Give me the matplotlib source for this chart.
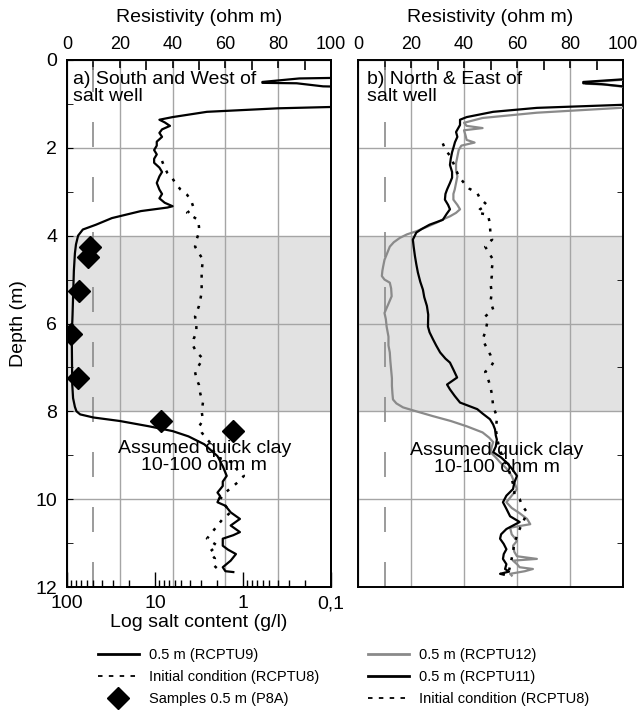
import matplotlib
matplotlib.use('Agg')
import matplotlib.pyplot as plt
from matplotlib.lines import Line2D
from matplotlib.ticker import NullFormatter, LogLocator

plt.rcParams['font.family'] = ['Liberation Sans', 'DejaVu Sans']

# --- a) South and West: RCPTU9 after 0.5 m (resistivity, ohm m)
depth_rcptu9 = [0.00, 0.38, 0.42, 0.50, 0.52, 0.53, 0.60, 0.64, 1.05, 1.07,
                1.10, 1.18, 1.30, 1.36, 1.42, 1.50, 1.58, 1.66, 1.75, 1.86,
                1.95, 2.05, 2.15, 2.25, 2.34, 2.45, 2.55, 2.65, 2.80, 2.95,
                3.05, 3.15, 3.25, 3.33, 3.36, 3.44, 3.60, 3.75, 3.86, 4.00,
                4.20, 4.40, 4.80, 5.20, 5.80, 6.30, 6.90, 7.40, 7.70, 7.90,
                8.00, 8.07, 8.14, 8.22, 8.34, 8.45, 8.57, 8.75, 9.02, 9.25,
                9.47, 9.60, 9.70, 9.85, 9.93, 10.07, 10.15, 10.30, 10.45, 10.60,
                10.75, 10.82, 10.90, 11.06, 11.15, 11.25, 11.40, 11.55, 11.64, 11.66]
res_rcptu9 = [130, 130, 88, 74, 74, 87, 97, 130, 130, 100,
              80, 53, 40, 35, 37, 39, 36, 35, 36, 34,
              34, 33, 34, 33, 33, 35, 36, 35, 34, 35,
              36, 35, 37, 40, 38, 28, 17, 11, 6, 4.2,
              3.4, 3.0, 2.6, 2.4, 2.1, 1.8, 1.9, 2.0, 2.3, 3.0,
              3.6, 5, 10, 20, 31, 40, 46, 52, 57, 59,
              60.5, 59, 59, 57, 58, 57, 60, 62, 65.5, 62,
              65.5, 63, 59, 59, 61, 64, 62, 59, 60, 63]

# initial condition RCPTU8 (left panel)
depth_init_a = [2.30, 2.45, 2.57, 2.70, 2.80, 2.95, 3.07, 3.20, 3.37, 3.48,
                3.64, 3.80, 3.93, 4.10, 4.25, 4.40, 4.55, 4.80, 5.00, 5.30,
                5.60, 5.84, 6.00, 6.20, 6.35, 6.50, 6.65, 6.80, 6.95, 7.10,
                7.25, 7.40, 7.60, 7.80, 8.00, 8.20, 8.35, 8.48, 8.60, 8.70,
                8.85, 9.05, 9.17, 9.30, 9.47, 9.60, 9.70, 9.85, 10.00, 10.15,
                10.30, 10.45, 10.60, 10.75, 10.90, 11.06, 11.20, 11.35, 11.50, 11.64]
res_init_a = [36, 37, 38, 40, 41, 43, 45.5, 47, 48, 45.5,
              49.6, 50, 50, 49, 48.5, 50, 51.5, 51, 51, 51,
              50, 48.5, 49, 49, 48, 47.7, 49, 51.5, 50, 48.5,
              49, 50, 50.5, 51.5, 51, 51.5, 50, 51, 52.5, 54,
              55, 57, 63, 64, 67, 65, 63, 60, 58, 60,
              62, 59, 57, 55, 53, 57, 54, 56, 55.5, 58]

# samples P8A (salt content, g/l)
depth_samples = [4.25, 4.48, 5.27, 6.23, 7.23, 8.23, 8.45]
salt_samples = [55, 58, 73, 90, 75, 8.5, 1.3]

# --- b) North & East: RCPTU11 and RCPTU12 after 0.5 m
depth_rcptu11 = [0.00, 0.40, 0.44, 0.50, 0.53, 0.55, 0.60, 0.63, 1.00, 1.02,
                 1.09, 1.18, 1.30, 1.36, 1.48, 1.64, 1.75, 1.87, 2.00, 2.10,
                 2.25, 2.39, 2.55, 2.68, 2.80, 2.95, 3.05, 3.18, 3.30, 3.40,
                 3.50, 3.64, 3.75, 3.85, 3.93, 4.09, 4.25, 4.47, 4.65, 4.84,
                 5.05, 5.23, 5.40, 5.60, 5.80, 6.07, 6.20, 6.36, 6.50, 6.66,
                 6.80, 6.89, 7.05, 7.23, 7.39, 7.50, 7.65, 7.80, 7.95, 8.05,
                 8.18, 8.30, 8.41, 8.55, 8.64, 8.80, 8.93, 9.05, 9.16, 9.30,
                 9.47, 9.62, 9.77, 9.92, 10.07, 10.22, 10.39, 10.52, 10.68, 10.80,
                 10.90, 11.02, 11.14, 11.25, 11.36, 11.48, 11.59, 11.65, 11.70, 11.72]
res_rcptu11 = [130, 130, 100, 85, 85, 92, 100, 130, 130, 100,
               67.5, 51, 41, 38.5, 38.5, 37, 37.5, 36.6, 36, 35.5,
               35, 34.7, 35.5, 35.5, 34.7, 33.6, 33, 32.8, 34, 34.7,
               33.5, 32, 27, 24, 22, 20.7, 21, 21.5, 22, 22.6,
               23.5, 24.5, 25, 26, 26.5, 26.4, 27, 28.3, 29.5, 31,
               33, 34.7, 36, 37.4, 33.6, 34.7, 36.5, 38.5, 45, 47,
               49.8, 51, 51.7, 52, 52.4, 52, 51, 54, 56, 58,
               60, 59, 58.5, 56, 54.7, 56, 57.4, 61, 56, 54,
               53.6, 55, 56, 55, 54.7, 56, 55.5, 57, 53.6, 55]

depth_rcptu12 = [0.00, 0.41, 0.45, 0.51, 0.54, 0.56, 0.61, 0.64, 1.06, 1.09,
                 1.20, 1.32, 1.43, 1.50, 1.55, 1.60, 1.70, 1.82, 1.88, 1.95,
                 2.05, 2.20, 2.35, 2.50, 2.65, 2.80, 2.95, 3.05, 3.18, 3.30,
                 3.40, 3.48, 3.56, 3.63, 3.70, 3.80, 3.90, 3.97, 4.05, 4.15,
                 4.25, 4.40, 4.55, 4.70, 4.80, 4.92, 5.00, 5.07, 5.20, 5.38,
                 5.55, 5.76, 5.90, 6.07, 6.30, 6.50, 6.66, 6.85, 7.05, 7.25,
                 7.42, 7.60, 7.73, 7.82, 7.91, 8.00, 8.11, 8.22, 8.34, 8.48,
                 8.60, 8.70, 8.80, 8.93, 9.05, 9.16, 9.30, 9.47, 9.62, 9.77,
                 9.92, 10.07, 10.20, 10.32, 10.45, 10.57, 10.65, 10.80, 10.95, 11.06,
                 11.20, 11.30, 11.36, 11.40, 11.48, 11.55, 11.59, 11.64, 11.70, 11.74]
res_rcptu12 = [130, 130, 100, 86, 86, 93, 100, 130, 130, 99,
               67.5, 47, 40, 41, 47, 40, 40.5, 41, 44, 39,
               38, 37.5, 37, 37, 37.5, 37, 36.5, 36, 36, 37.5,
               38.5, 37, 34.7, 32, 29.8, 26, 22, 18.5, 15.8, 13.5,
               12, 11, 10, 9.5, 9.2, 9, 10, 12, 12.5, 12.7,
               11.5, 10, 10.5, 10.8, 11.5, 11.5, 12, 12.2, 12.5, 12.8,
               12.8, 13, 13.2, 14.5, 17, 22, 28.3, 35, 41, 47,
               49.5, 51, 50.5, 50, 52, 53.6, 56, 58, 59, 60,
               58, 56, 58, 61, 63.8, 65, 57.4, 58, 60, 58.5,
               59, 60, 67.5, 58.5, 60, 61, 66, 63, 57.4, 58]

# initial condition RCPTU8 (right panel)
depth_init_b = [1.90, 2.05, 2.20, 2.35, 2.50, 2.65, 2.80, 2.93, 3.03, 3.15,
                3.30, 3.40, 3.48, 3.52, 3.65, 3.80, 3.95, 4.09, 4.25, 4.40,
                4.55, 4.75, 4.92, 5.10, 5.30, 5.50, 5.68, 5.84, 6.00, 6.20,
                6.36, 6.55, 6.72, 6.89, 7.00, 7.10, 7.25, 7.40, 7.60, 7.88,
                8.05, 8.18, 8.40, 8.57, 8.75, 8.95, 9.15, 9.35, 9.55, 9.75,
                9.90, 10.00, 10.15, 10.30, 10.42, 10.52, 10.68, 10.84, 11.00, 11.20,
                11.35, 11.52, 11.62]
res_init_b = [32, 33, 35, 36, 37, 38, 40, 42, 45, 46,
              48.7, 46, 45, 49, 49.5, 49.8, 50, 50.6, 48, 49.5,
              51, 50.5, 50.5, 50, 50.5, 50, 51, 48, 48.7, 48,
              47, 48.5, 50, 51, 50, 48, 49, 49.8, 50.5, 51,
              52, 52.4, 52, 52.4, 53, 54, 55.5, 57, 58, 59,
              59, 61, 62, 63.8, 63, 62.3, 61, 60, 59, 58.5,
              58, 57.4, 57]

quick_clay_top = 4
quick_clay_bottom = 8
quick_clay_limit = 10

GRIS = '#8a8a8a'
DOTS = (0, (1.2, 3))

fig = plt.figure(figsize=(6.38, 7.24), dpi=100)
ax_a = fig.add_axes([67/638, 1 - 587/724, 264/638, 527/724])
ax_b = fig.add_axes([358/638, 1 - 587/724, 265/638, 527/724])

# eje logarítmico de contenido de sal (se crea antes para poder fijar luego el eje superior)
ax_log = ax_a.twiny()


def base_panel(ax):
    # fondo gris para la zona de arcilla rápida y rejilla
    ax.axhspan(quick_clay_top, quick_clay_bottom, color='#e2e2e2', zorder=0, lw=0)
    ax.set_axisbelow(True)
    ax.set_xlim(0, 100)
    ax.set_ylim(12, 0)
    ax.xaxis.set_ticks_position('top')
    ax.xaxis.set_label_position('top')
    ax.set_xticks(range(0, 101, 20))
    ax.set_xticks(range(10, 100, 20), minor=True)
    ax.set_yticks(range(0, 13, 2))
    ax.set_yticks(range(1, 12, 2), minor=True)
    ax.grid(True, which='major', color='#a5a5a5', lw=1)
    ax.axvline(quick_clay_limit, color=GRIS, lw=1.2, dashes=(15, 18), zorder=1)
    ax.set_xlabel('Resistivity (ohm m)', fontsize=14, labelpad=10)
    ax.tick_params(axis='x', which='major', direction='in', length=6, width=1.2,
                   labelsize=13, pad=5, top=True, bottom=False,
                   labeltop=True, labelbottom=False)
    ax.tick_params(axis='x', which='minor', direction='in', length=7, width=1.2,
                   top=True, bottom=False)
    for s in ax.spines.values():
        s.set_linewidth(1.4)


base_panel(ax_a)
base_panel(ax_b)

# panel a
ax_a.plot(res_rcptu9, depth_rcptu9, color='black', lw=1.6, zorder=3)
ax_a.plot(res_init_a, depth_init_a, color='black', lw=1.8, linestyle=DOTS, zorder=3)
ax_a.set_ylabel('Depth (m)', fontsize=14, labelpad=6)
ax_a.tick_params(axis='y', which='major', direction='in', length=4, labelsize=14, pad=7)
ax_a.tick_params(axis='y', which='minor', direction='in', length=4)
ax_a.text(2.2, 0.25, 'a) South and West of\nsalt well', fontsize=14, va='top', ha='left',
          linespacing=1.0)
ax_a.text(52, 9.03, 'Assumed quick clay\n10-100 ohm m', fontsize=14, ha='center',
          va='center', linespacing=1.0, zorder=4)

ax_log.set_xscale('log')
ax_log.set_xlim(100, 0.1)
ax_log.xaxis.set_ticks_position('bottom')
ax_log.xaxis.set_label_position('bottom')
ax_log.set_xticks([100, 10, 1, 0.1], labels=['100', '10', '1', '0,1'])
ax_log.xaxis.set_minor_locator(LogLocator(base=10, subs=range(2, 10)))
ax_log.xaxis.set_minor_formatter(NullFormatter())
ax_log.tick_params(axis='x', which='major', direction='in', length=11, width=1,
                   labelsize=14, pad=6)
ax_log.tick_params(axis='x', which='minor', direction='in', length=5, width=1)
ax_log.set_xlabel('Log salt content (g/l)', fontsize=14, labelpad=1)
ax_log.plot(salt_samples, depth_samples, linestyle='none', marker='D',
            markersize=11, color='black', zorder=5)
for s in ax_log.spines.values():
    s.set_linewidth(1.4)

# panel b
ax_b.plot(res_rcptu12, depth_rcptu12, color=GRIS, lw=1.6, zorder=3)
ax_b.plot(res_rcptu11, depth_rcptu11, color='black', lw=1.6, zorder=3)
ax_b.plot(res_init_b, depth_init_b, color='black', lw=1.8, linestyle=DOTS, zorder=3)
ax_b.tick_params(axis='y', which='both', left=False, right=True, labelleft=False,
                 direction='in')
ax_b.tick_params(axis='y', which='major', length=0)
ax_b.tick_params(axis='y', which='minor', length=4)
ax_b.text(3.5, 0.25, 'b) North & East of\nsalt well', fontsize=14, va='top', ha='left',
          linespacing=1.0)
ax_b.text(52.5, 9.08, 'Assumed quick clay\n10-100 ohm m', fontsize=14, ha='center',
          va='center', linespacing=1.0, zorder=4)

# leyendas
h_left = [Line2D([], [], color='black', lw=2),
          Line2D([], [], color='black', lw=1.3, linestyle=(0, (2.5, 3.5))),
          Line2D([], [], color='black', linestyle='none', marker='D', markersize=11)]
l_left = ['0.5 m (RCPTU9)', 'Initial condition (RCPTU8)', 'Samples 0.5 m (P8A)']
h_right = [Line2D([], [], color=GRIS, lw=2),
           Line2D([], [], color='black', lw=2),
           Line2D([], [], color='black', lw=1.3, linestyle=(0, (2.5, 3.5)))]
l_right = ['0.5 m (RCPTU12)', '0.5 m (RCPTU11)', 'Initial condition (RCPTU8)']

kw = dict(loc='upper left', frameon=False, fontsize=10.5, handlelength=2.8,
          handletextpad=0.7, labelspacing=0.55, borderpad=0, borderaxespad=0)
fig.legend(h_left, l_left, bbox_to_anchor=(98/638, 1 - 648/724), **kw)
fig.legend(h_right, l_right, bbox_to_anchor=(368/638, 1 - 648/724), **kw)

fig.savefig('out.png', dpi=100)
